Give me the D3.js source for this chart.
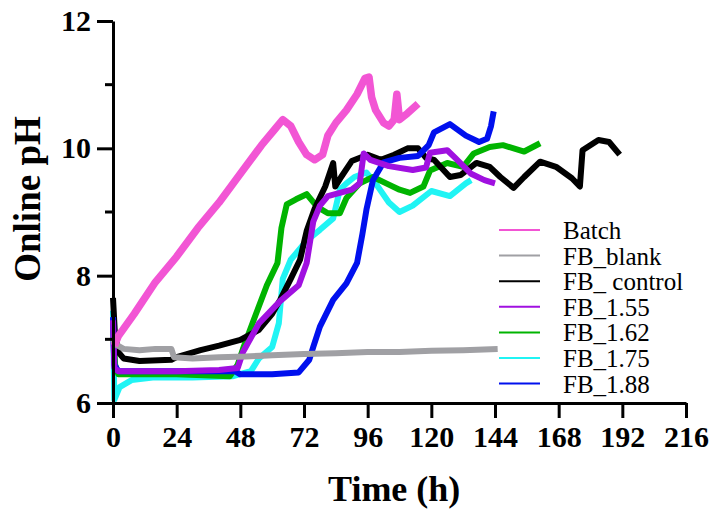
<!DOCTYPE html>
<html>
<head>
<meta charset="utf-8">
<script src="https://cdn.jsdelivr.net/npm/d3@7"></script>
<style>
  body { margin: 0; background: #fff; }
  svg text { font-family: "Liberation Serif", "Times New Roman", serif; }
</style>
</head>
<body>
<div id="chart"></div>
<script>
// time (h), online pH
const batch = [[0.5,6.9],[2,7.05],[8,7.4],[16,7.9],[24,8.3],[32,8.75],[40,9.15],[48,9.6],[56,10.05],[61,10.3],[64,10.45],[67,10.35],[70,10.1],[73,9.9],[76,9.82],[79,9.9],[81,10.2],[84,10.4],[88,10.6],[92,10.85],[95,11.1],[96.5,11.12],[97.5,10.8],[99,10.6],[102,10.4],[104,10.35],[106,10.45],[107,10.85],[108,10.45],[111,10.55],[115,10.7]];
const fb_blank = [[0,7.0],[1,6.92],[4,6.85],[10,6.83],[16,6.85],[22,6.85],[23,6.72],[30,6.7],[40,6.72],[50,6.73],[60,6.75],[72,6.77],[84,6.78],[96,6.8],[108,6.8],[120,6.82],[132,6.83],[145,6.85]];
const fb_control = [[0,7.65],[0.7,7.1],[2,6.8],[4,6.7],[10,6.66],[22,6.68],[24,6.72],[33,6.83],[40,6.9],[48,6.99],[55,7.15],[60,7.4],[63,7.62],[67,7.95],[70.5,8.25],[73,8.7],[76,9.05],[80,9.4],[83,9.77],[83.8,9.4],[86,9.55],[90,9.8],[96,9.9],[101,9.82],[106,9.9],[111,10.0],[115,10.0],[118,9.85],[121,9.82],[127,9.55],[131,9.58],[137,9.77],[142,9.71],[146,9.55],[151,9.38],[155,9.55],[161,9.79],[167,9.71],[173,9.53],[176,9.4],[177,9.97],[183,10.13],[187,10.1],[191,9.9]];
const fb_155 = [[0,7.3],[0.5,6.55],[2,6.5],[24,6.5],[40,6.52],[47,6.55],[49,6.8],[55,7.25],[63,7.6],[70,7.85],[73,8.2],[75.5,8.85],[78,9.1],[81,9.25],[90,9.35],[93,9.45],[94.5,9.92],[97,9.82],[104,9.72],[113,9.66],[118,9.7],[119.5,9.93],[126,9.97],[129,9.85],[135,9.6],[140,9.5],[144,9.45]];
const fb_162 = [[0,7.3],[0.8,6.6],[2,6.45],[24,6.45],[44,6.42],[47,6.6],[49,6.85],[53,7.3],[58,7.85],[62,8.2],[63.5,8.75],[65.5,9.12],[69,9.2],[73,9.28],[77,9.08],[81,8.98],[85.5,8.98],[88,9.22],[93,9.45],[98,9.55],[103,9.45],[108,9.35],[112,9.3],[117,9.4],[119.5,9.65],[126,9.77],[132,9.71],[136,9.92],[142,10.02],[147,10.05],[155,9.95],[161,10.08]];
const fb_175 = [[0,7.45],[0.5,6.05],[2.5,6.25],[7,6.36],[15,6.4],[30,6.4],[45,6.42],[52,6.5],[55,6.7],[60,6.88],[62.5,7.25],[64,7.95],[67,8.25],[73,8.55],[78,8.72],[83,8.9],[85.5,9.35],[88,9.45],[91,9.55],[95.5,9.62],[99,9.45],[104,9.15],[108,9.0],[113,9.1],[120,9.33],[127,9.25],[133,9.45],[135,9.5]];
const fb_188 = [[0,7.35],[0.5,6.6],[2,6.5],[24,6.5],[46,6.5],[48,6.45],[60,6.45],[70,6.48],[74,6.68],[75.5,6.88],[78,7.2],[83,7.62],[88,7.88],[92,8.2],[94,8.65],[95.6,9.05],[98,9.5],[102,9.78],[108,9.85],[115,9.88],[119,10.05],[121,10.25],[127,10.38],[133,10.2],[138,10.1],[141,10.15],[142.5,10.35],[143.5,10.58]];

const series_names = ["Batch", "FB_blank", "FB_ control", "FB_1.55", "FB_1.62", "FB_1.75", "FB_1.88"];
const series_data = [batch, fb_blank, fb_control, fb_155, fb_162, fb_175, fb_188];
const colors = ["#f255d4", "#a0a0a4", "#000000", "#a010e0", "#00b400", "#20f4f4", "#0010ee"];
const draw_order = [5, 4, 2, 6, 3, 1, 0];
const x_ticks = [0, 24, 48, 72, 96, 120, 144, 168, 192, 216];
const y_ticks = [6, 8, 10, 12];
const y_minor = [7, 9, 11];

const width = 714, height = 510;
const margin = { top: 21, right: 28, bottom: 107, left: 113 };

const svg = d3.select("#chart").append("svg")
    .attr("width", width)
    .attr("height", height);

const x = d3.scaleLinear().domain([0, 216]).range([margin.left, width - margin.right]);
const y = d3.scaleLinear().domain([6, 12]).range([height - margin.bottom, margin.top]);

// lines
const line = d3.line().x(d => x(d[0])).y(d => y(d[1]));
draw_order.forEach(i => {
    svg.append("path")
        .datum(series_data[i])
        .attr("fill", "none")
        .attr("stroke", colors[i])
        .attr("stroke-width", i == 0 ? 7.5 : 6)
        .attr("stroke-linejoin", "round")
        .attr("d", line);
});

// X axis
const xAxis = svg.append("g")
    .attr("transform", "translate(0," + y(6) + ")")
    .call(d3.axisBottom(x).tickValues(x_ticks).tickSize(15).tickSizeOuter(0).tickPadding(8));
xAxis.select(".domain").attr("stroke-width", 3);
xAxis.selectAll(".tick line").attr("stroke-width", 3);
xAxis.selectAll("text")
    .attr("font-size", 30).attr("font-weight", "bold")
    .attr("font-family", "Liberation Serif").attr("fill", "#000");

// Y axis
const yAxis = svg.append("g")
    .attr("transform", "translate(" + x(0) + ",0)")
    .call(d3.axisLeft(y).tickValues(y_ticks).tickFormat(d3.format("d")).tickSize(16).tickSizeOuter(0).tickPadding(6));
yAxis.select(".domain").attr("stroke-width", 3);
yAxis.selectAll(".tick line").attr("stroke-width", 3);
yAxis.selectAll("text")
    .attr("font-size", 30).attr("font-weight", "bold")
    .attr("font-family", "Liberation Serif").attr("fill", "#000");
svg.append("g").selectAll("line")
    .data(y_minor).enter().append("line")
    .attr("x1", x(0) - 8).attr("x2", x(0))
    .attr("y1", d => y(d)).attr("y2", d => y(d))
    .attr("stroke", "#000").attr("stroke-width", 3);

// axis titles
svg.append("text")
    .attr("x", x(106)).attr("y", 501)
    .attr("text-anchor", "middle")
    .attr("font-size", 36).attr("font-weight", "bold")
    .text("Time (h)");
svg.append("text")
    .attr("transform", "translate(40,199) rotate(-90)")
    .attr("text-anchor", "middle")
    .attr("font-size", 37).attr("font-weight", "bold")
    .text("Online pH");

// legend
const legend = svg.append("g");
series_names.forEach((name, i) => {
    const ly = 230 + i * 25.6;
    legend.append("line")
        .attr("x1", 499).attr("x2", 540)
        .attr("y1", ly).attr("y2", ly)
        .attr("stroke", colors[i]).attr("stroke-width", 2);
    legend.append("text")
        .attr("x", 563).attr("y", ly + 9)
        .attr("font-size", 25)
        .text(name);
});
</script>
</body>
</html>
